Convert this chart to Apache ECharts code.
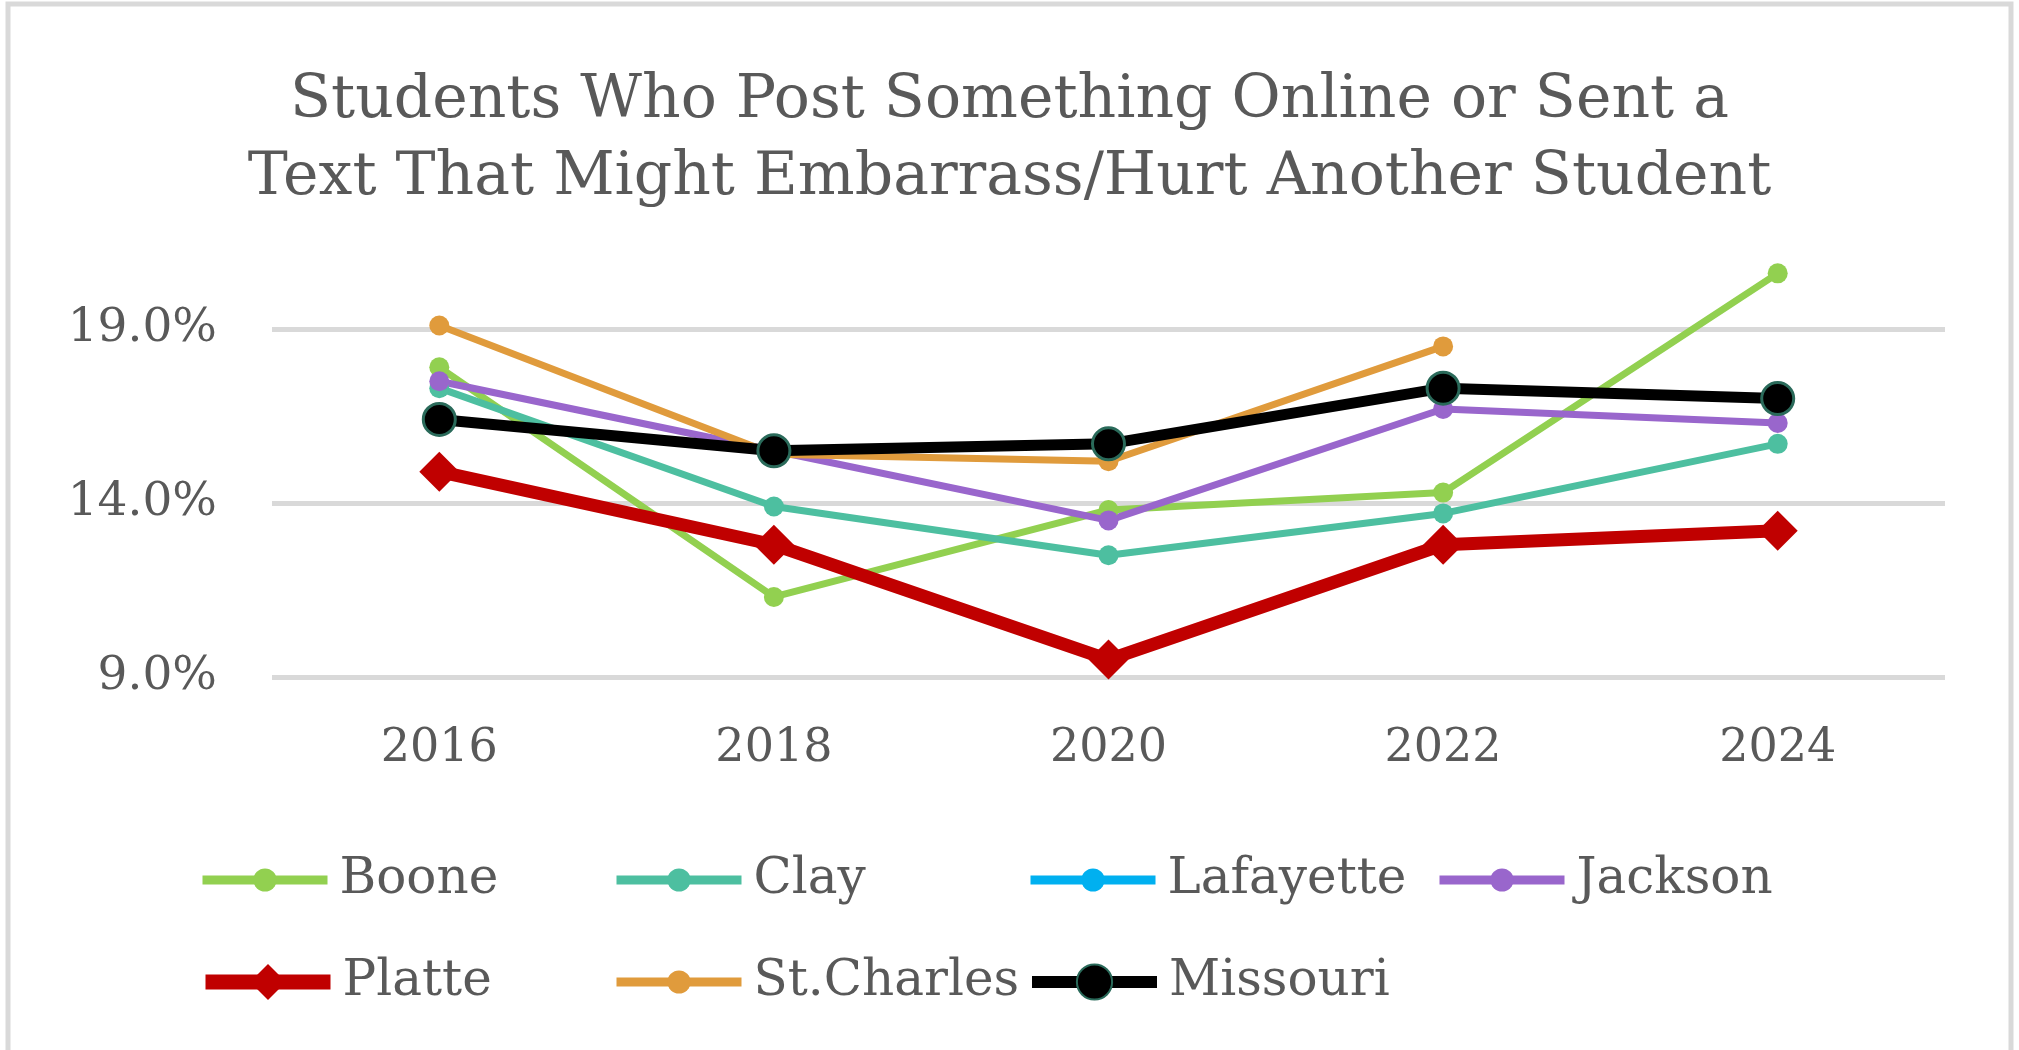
<!DOCTYPE html>
<html>
<head>
<meta charset="utf-8">
<script src="https://cdn.jsdelivr.net/npm/echarts@6/dist/echarts.min.js"></script>
<style>
html,body{margin:0;padding:0;background:#fff;}
#chart{width:2019px;height:1050px;}
</style>
</head>
<body>
<div id="chart"></div>
<script>
const years = ['2016', '2018', '2020', '2022', '2024'];
const boone = [17.9, 11.3, 13.8, 14.3, 20.6];
const clay = [17.3, 13.9, 12.5, 13.7, 15.7];
const lafayette = [null, null, null, null, null];
const jackson = [17.5, 15.5, 13.5, 16.7, 16.3];
const platte = [14.9, 12.8, 9.5, 12.8, 13.2];
const stCharles = [19.1, 15.4, 15.2, 18.5, null];
const missouri = [16.4, 15.5, 15.7, 17.3, 17.0];
const yTicks = [9, 14, 19];

const FONT = 'DejaVu Serif';
const TXT = '#595959';

function lineSeries(name, data, color, width, symbol, size, extra) {
  return Object.assign({
    name: name,
    type: 'line',
    data: data,
    clip: false,
    symbol: symbol,
    symbolSize: size,
    showSymbol: true,
    connectNulls: false,
    lineStyle: {color: color, width: width},
    itemStyle: {color: color},
    emphasis: {disabled: true}
  }, extra || {});
}

const chart = echarts.init(document.getElementById('chart'), null, {renderer: 'canvas'});
const legendText = {fontFamily: FONT, fontSize: 50, color: TXT, lineHeight: 54, padding: [0, 0, 0, 7]};
function legend(name, left, rowCenter, iconH, lineW) {
  const h = Math.max(iconH, 54);
  return {
    data: [{name: name, lineStyle: {width: lineW}}], orient: 'horizontal', left: left, top: rowCenter - h / 2,
    itemWidth: 125, itemHeight: iconH,
    textStyle: legendText, selectedMode: false
  };
}
chart.setOption({
  animation: false,
  backgroundColor: '#ffffff',
  title: {
    text: 'Students Who Post Something Online or Sent a\nText That Might Embarrass/Hurt Another Student',
    left: 'center', top: 58,
    textStyle: {fontFamily: FONT, fontSize: 60, fontWeight: 'normal', color: TXT, lineHeight: 77}
  },
  graphic: [{
    type: 'rect', shape: {x: 8, y: 4, width: 2003, height: 1060},
    style: {fill: 'none', stroke: '#d9d9d9', lineWidth: 5}, silent: true
  }],
  legend: [
    legend('Boone', 193, 875, 29, 9),
    legend('Clay', 607, 875, 29, 9),
    legend('Lafayette', 1021, 875, 29, 9),
    legend('Jackson', 1430, 875, 29, 9),
    legend('Platte', 193, 977, 45, 15),
    legend('St.Charles', 607, 977, 29, 9),
    legend('Missouri', 1021, 977, 44, 12)
  ],
  grid: {left: 272, right: 74, top: 329, bottom: 373, containLabel: false},
  xAxis: {
    type: 'category', data: years, boundaryGap: true,
    axisLine: {show: false}, axisTick: {show: false},
    axisLabel: {fontFamily: FONT, fontSize: 46, color: TXT, margin: 49}
  },
  yAxis: {
    type: 'value', min: yTicks[0], max: yTicks[yTicks.length - 1], interval: yTicks[1] - yTicks[0],
    axisLine: {show: false}, axisTick: {show: false},
    splitLine: {lineStyle: {color: '#d9d9d9', width: 5}},
    axisLabel: {fontFamily: FONT, fontSize: 47, color: TXT, margin: 55,
      formatter: v => v.toFixed(1) + '%'}
  },
  series: [
    lineSeries('Boone', boone, '#92d050', 7, 'circle', 20),
    lineSeries('Clay', clay, '#4dbfa0', 7, 'circle', 20),
    lineSeries('Lafayette', lafayette, '#00b0f0', 7, 'circle', 20),
    lineSeries('Jackson', jackson, '#9966cc', 7, 'circle', 20),
    lineSeries('Platte', platte, '#c00000', 13, 'diamond', 40),
    lineSeries('St.Charles', stCharles, '#e09b3c', 7, 'circle', 20),
    lineSeries('Missouri', missouri, '#000000', 11, 'circle', 32, {
      itemStyle: {color: '#000000', borderColor: '#2a6a5a', borderWidth: 3}
    })
  ]
});
</script>
</body>
</html>
